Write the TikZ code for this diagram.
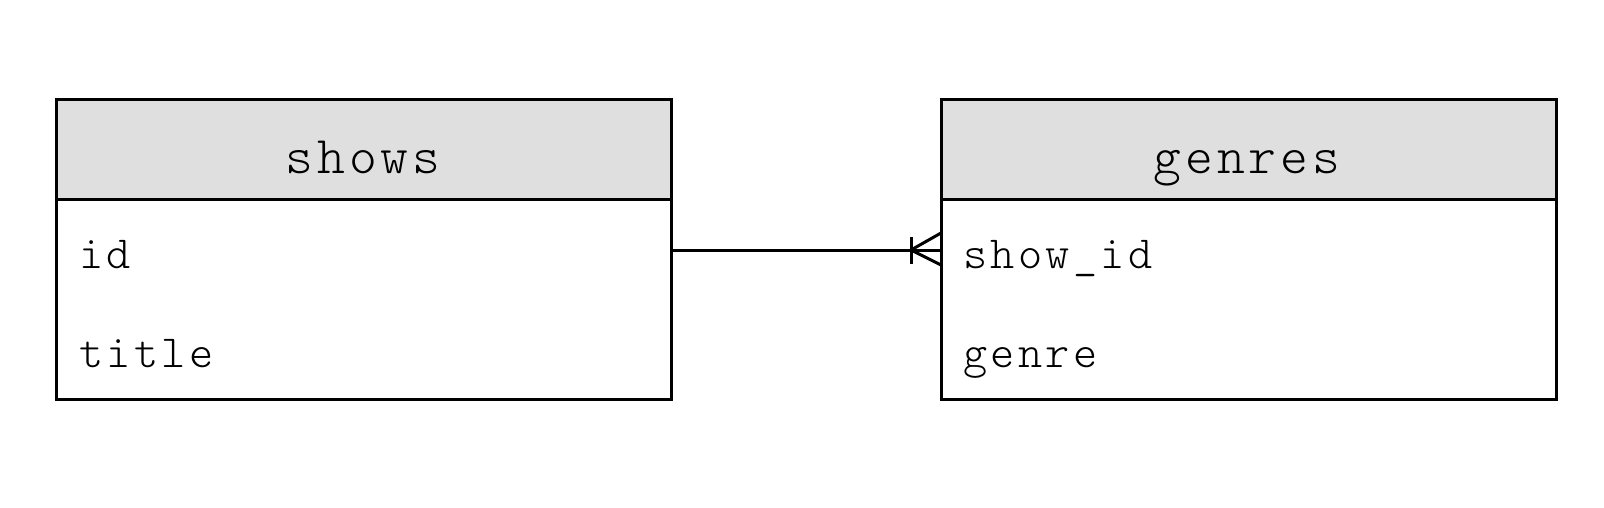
\documentclass[tikz,border=0pt]{standalone}
\usepackage{fontspec}
\usetikzlibrary{calc}
\newfontfamily\hdrfont[LetterSpace=7.5]{Latin Modern Mono Light}
\newfontfamily\fldfont[LetterSpace=7.3]{Latin Modern Mono Light}
\definecolor{hdr}{HTML}{DFDFDF}
\tikzset{
  box/.style={draw=black, line width=3pt},
  hdrbox/.style={draw=black, fill=hdr, line width=3pt},
  title/.style={font=\hdrfont\fontsize{53}{53}\selectfont, anchor=base, inner sep=0pt},
  field/.style={font=\fldfont\fontsize{46}{46}\selectfont, anchor=base west, inner sep=0pt},
  conn/.style={line width=3pt}
}
\begin{document}
\begin{tikzpicture}[x=1pt,y=-1pt]
\useasboundingbox (0,0) rectangle (1604,508);
% shows
\draw[hdrbox] (56,100) rectangle (671,199);
\draw[box] (56,199) rectangle (671,399);
\node[title] (showsT) at (363,174) {shows};
\node[field] (sid) at (79,268) {id};
\node[field] (stitle) at (79,367) {title};
% genres
\draw[hdrbox] (941,100) rectangle (1556,199);
\draw[box] (941,199) rectangle (1556,399);
\node[title] (genresT) at (1247,174) {genres};
\node[field] (gsid) at (963,268) {show\_id};
\node[field] (ggenre) at (963,367) {genre};
% connector
\coordinate (a) at (671,250);
\coordinate (b) at (941,250);
\draw[conn] (a) -- (b);
\draw[conn] ($(b)+(-30,-13)$) -- ($(b)+(-30,14)$);
\draw[conn] ($(b)+(0,-17)$) -- ($(b)+(-30,0)$) -- ($(b)+(0,15)$);
\end{tikzpicture}
\end{document}
